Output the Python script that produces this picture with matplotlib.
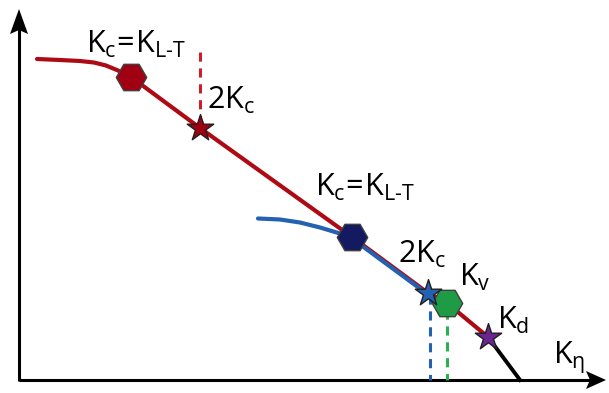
import matplotlib.pyplot as plt

plt.rcParams["font.family"] = ["Open Sans", "DejaVu Sans"]
plt.rcParams["mathtext.fontset"] = "custom"
plt.rcParams["mathtext.rm"] = "Open Sans"
plt.rcParams["mathtext.it"] = "Open Sans"

# schematic curves, in pixel units (y grows downwards)
red_x = [37, 60, 80, 94, 106, 118, 131, 200, 352, 428, 447, 488]
red_y = [59, 60, 61, 62.5, 65.5, 70.5, 77, 128, 237, 293, 303, 337]
blue_x = [258, 280, 300, 320, 340, 352, 428]
blue_y = [217, 218, 221, 226, 232, 237, 293]
tail_x = [488, 520]
tail_y = [337, 380]

# markers on the curves
hex_x = [131, 352, 447]
hex_y = [77, 237, 303]
hex_colors = ["#a00012", "#141a60", "#1f9a45"]
star_x = [200, 428, 488]
star_y = [128, 293, 337]
star_colors = ["#a00012", "#2461b0", "#6a2590"]

# dashed drop lines: x, top, bottom, colour
drop_x = [200, 430, 447]
drop_top = [52, 295, 310]
drop_bottom = [128, 380, 380]
drop_colors = ["#c8202a", "#2461b0", "#2bb050"]

labels = [r"$\mathregular{K_c\!=\!K_{L\text{-}T}}$", r"$\mathregular{2K_c}$",
          r"$\mathregular{K_c\!=\!K_{L\text{-}T}}$", r"$\mathregular{2K_c}$",
          r"$\mathregular{K_v}$", r"$\mathregular{K_d}$", r"$\mathregular{K_\eta}$"]
label_x = [86, 207, 315, 398, 459, 497, 553]
label_y = [53, 109, 196, 263, 286, 329, 364]

axis_y0 = 380
axis_x0 = 19

fig = plt.figure(figsize=(6.09, 3.93), dpi=100)
ax = fig.add_axes([0, 0, 1, 1])
ax.set_xlim(0, 609)
ax.set_ylim(393, 0)
ax.axis("off")

# axes with arrow heads
ax.plot([axis_x0, axis_x0], [axis_y0 + 1, 28], color="black", lw=2.2,
        solid_capstyle="butt")
ax.plot([axis_x0, 590], [axis_y0, axis_y0], color="black", lw=2.2,
        solid_capstyle="butt")
ax.fill([10, axis_x0, 28, axis_x0], [34, 9, 34, 30], color="black", lw=0)
ax.fill([586, 606, 586, 590], [371, axis_y0, 389, axis_y0], color="black", lw=0)

for x, t, b, c in zip(drop_x, drop_top, drop_bottom, drop_colors):
    ax.plot([x, x], [t, b], color=c, lw=2.2, ls=(0, (3, 2.2)))

ax.plot(red_x, red_y, color="#ad0a14", lw=3, solid_capstyle="round",
        solid_joinstyle="round", zorder=3)
ax.plot(tail_x, tail_y, color="black", lw=2.8, zorder=3)
ax.plot(blue_x, [y + 1.5 for y in blue_y], color="#2461b0", lw=3,
        solid_capstyle="round", solid_joinstyle="round", zorder=4)

for x, y, c in zip(hex_x, hex_y, hex_colors):
    ax.scatter([x], [y], s=480, marker="H", color=c, edgecolors="#404040",
               linewidths=1.0, zorder=5)
for x, y, c in zip(star_x, star_y, star_colors):
    ax.scatter([x], [y], s=400, marker="*", color=c, edgecolors="#202020",
               linewidths=1.0, zorder=5)

for s, x, y in zip(labels, label_x, label_y):
    ax.text(x, y, s, fontsize=22, color="black", ha="left", va="baseline")

fig.savefig("out.png", dpi=100, facecolor="white")
